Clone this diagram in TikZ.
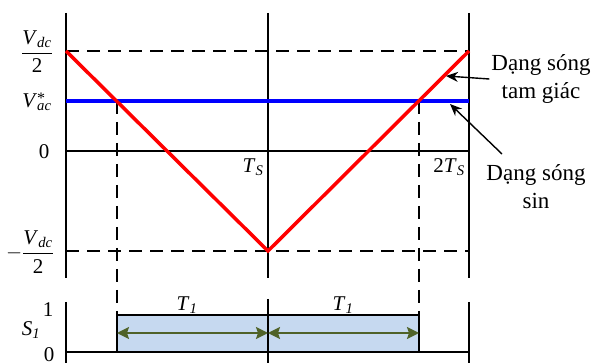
\documentclass[tikz,border=0pt]{standalone}
\usepackage{fontspec}
\setmainfont{Liberation Serif}
\usetikzlibrary{arrows.meta}
\definecolor{spangreen}{RGB}{79,98,40}
\definecolor{boxfill}{RGB}{198,217,240}
\newcommand{\itsub}[2]{\textit{#1}\textsubscript{\textit{#2}}}
\begin{document}
\begin{tikzpicture}[x=1pt,y=-1pt,
  ax/.style={line width=1.4pt},
  dsh/.style={line width=1.3pt,dash pattern=on 13pt off 8pt},
  txt/.style={font=\fontsize{21}{28}\selectfont,inner sep=0pt,align=center},
  side/.style={font=\fontsize{23}{28}\selectfont,inner sep=0pt,align=center},
  pointer/.style={line width=1.4pt,-{Stealth[length=12pt,width=10pt]}},
  span/.style={line width=1.8pt,draw=spangreen,{Stealth[length=12pt,width=12pt,inset=2pt]}-{Stealth[length=12pt,width=12pt,inset=2pt]}},
  wave/.style={line width=3.5pt}
]
\useasboundingbox (0,0) rectangle (595,363);
% top axes
\coordinate (LT) at (66,13);  \coordinate (LB) at (66,278);
\coordinate (MT) at (268,13); \coordinate (MB) at (268,278);
\coordinate (RT) at (469,13); \coordinate (RB) at (469,278);
\draw[ax] (LT) -- (LB);
\draw[ax] (MT) -- (MB);
\draw[ax] (RT) -- (RB);
% levels
\coordinate (VdL) at (66,51);  \coordinate (VdR) at (469,51);
\coordinate (VaL) at (66,101); \coordinate (VaR) at (469,101);
\coordinate (ZL) at (66,151);  \coordinate (ZR) at (469,151);
\coordinate (NdL) at (66,251); \coordinate (NdR) at (469,251);
\coordinate (Vmin) at (268,251);
\draw[dsh] (VdL) -- (VdR);
\draw[dsh] (NdL) -- (NdR);
\draw[ax] (ZL) -- (ZR);
% bottom plot
\coordinate (BLT) at (66,302);  \coordinate (BLB) at (66,363);
\coordinate (BMT) at (268,299); \coordinate (BMB) at (268,363);
\coordinate (BRT) at (469,302); \coordinate (BRB) at (469,363);
\coordinate (BaseL) at (66,352); \coordinate (BaseR) at (469,352);
\coordinate (X1) at (117,101); \coordinate (X2) at (419,101);
\coordinate (P1) at (117,315); \coordinate (P2) at (419,315);
\coordinate (Q1) at (117,352); \coordinate (Q2) at (419,352);
\draw[dsh] (X1) -- (P1);
\draw[dsh] (X2) -- (P2);
\draw[ax] (BLT) -- (BLB);
\draw[ax] (BRT) -- (BRB);
\draw[ax] (BaseL) -- (BaseR);
\draw[line width=1.8pt,fill=boxfill] (P1) rectangle (Q2);
\draw[ax] (BMT) -- (BMB);
\coordinate (A1) at (117,333); \coordinate (A2) at (268,333); \coordinate (A3) at (419,333);
\draw[span] (A1) -- (A2);
\draw[span] (A2) -- (A3);
% waves
\draw[wave,blue] (VaL) -- (VaR);
\draw[wave,red,line join=miter] (VdL) -- (Vmin) -- (VdR);
% labels
\node[txt] (vdc) at (37,52) {$\displaystyle\frac{\mbox{\itsub{V}{dc}}}{\mbox{2}}$};
\node[txt] (vac) at (37,102) {\textit{V}\makebox[0pt][l]{\raisebox{4.5pt}{\fontsize{16}{16}\selectfont *}}\textsubscript{\textit{ac}}};
\node[txt] (zero) at (44,152) {0};
\node[txt] (ndc) at (30,252) {$-\displaystyle\frac{\mbox{\itsub{V}{dc}}}{\mbox{2}}$};
\node[txt] (s1) at (31,330) {\itsub{S}{1}};
\node[txt] (one) at (48,310) {1};
\node[txt] (zerob) at (49,355) {0};
\node[txt] (ts) at (253,167) {\itsub{T}{S}};
\node[txt] (tts) at (449,167) {2\itsub{T}{S}};
\node[txt] (t1a) at (187,305) {\itsub{T}{1}};
\node[txt] (t1b) at (343,305) {\itsub{T}{1}};
\node[side] (tri) at (541,79) {Dạng sóng\\tam giác};
\node[side] (sinl) at (536,187) {Dạng sóng\\sin};
% pointers
\coordinate (triTip) at (446,76);
\coordinate (sinStart) at (502,154);
\coordinate (sinTip) at (450,104);
\draw[pointer] ([xshift=-2pt]tri.west) -- (triTip);
\draw[pointer] (sinStart) -- (sinTip);
\end{tikzpicture}
\end{document}
